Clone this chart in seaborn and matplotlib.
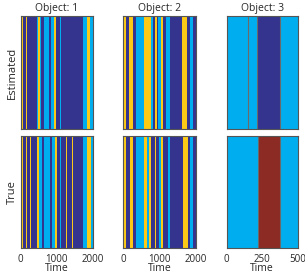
import numpy as np
import matplotlib
matplotlib.use("Agg")
import matplotlib.pyplot as plt
import seaborn as sns
from matplotlib.colors import ListedColormap

# state colours: 0 dark blue, 1 cyan, 2 yellow, 3 dark red
state_colors = ["#34348F", "#00AEEF", "#FCCA16", "#8C2A24"]

# segment boundaries (time) and state of each segment
obj1_est_bounds = [0, 30, 50, 75, 160, 175, 440, 480, 540, 570, 660, 800, 850, 920, 990,
                   1100, 1130, 1280, 1292, 1420, 1432, 1720, 1850, 1930, 2000]
obj1_est_states = [1, 2, 1, 0, 2, 0, 1, 2, 1, 0, 1, 0, 1, 2, 0, 1, 0, 2, 0, 2, 0, 1, 2, 1]

obj1_true_bounds = [0, 30, 55, 160, 172, 270, 282, 463, 518, 583, 648, 815, 861, 954, 1000,
                    1093, 1120, 1270, 1282, 1435, 1447, 1741, 1852, 1944, 2000]
obj1_true_states = [1, 2, 0, 2, 0, 2, 0, 2, 1, 0, 1, 0, 1, 2, 0, 1, 0, 2, 0, 2, 0, 1, 2, 1]

obj2_est_bounds = [0, 25, 74, 166, 277, 350, 580, 765, 830, 876, 922, 968, 1032, 1106,
                   1180, 1290, 1620, 1770, 1840, 1920, 2000]
obj2_est_states = [0, 2, 0, 2, 0, 1, 2, 1, 0, 2, 0, 1, 2, 0, 1, 0, 2, 0, 1, 0]

obj2_true_bounds = [0, 25, 75, 195, 260, 350, 585, 650, 705, 770, 880, 910, 980, 1050,
                    1110, 1230, 1280, 1660, 1780, 1850, 1930, 2000]
obj2_true_states = [0, 2, 0, 2, 0, 1, 2, 1, 2, 0, 2, 0, 1, 2, 0, 1, 0, 2, 0, 1, 0]

obj3_est_bounds = [0, 152, 216, 376, 500]
obj3_est_states = [1, 1, 0, 1]

obj3_true_bounds = [0, 223, 376, 500]
obj3_true_states = [1, 3, 1]

objects = ["Object: 1", "Object: 2", "Object: 3"]
row_names = ["Estimated", "True"]
time_ticks = [[0, 1000, 2000], [0, 1000, 2000], [0, 250, 500]]

panels = [
    [(obj1_est_bounds, obj1_est_states), (obj2_est_bounds, obj2_est_states), (obj3_est_bounds, obj3_est_states)],
    [(obj1_true_bounds, obj1_true_states), (obj2_true_bounds, obj2_true_states), (obj3_true_bounds, obj3_true_states)],
]

sns.set_style("white")
plt.rcParams["font.family"] = ["Open Sans", "DejaVu Sans"]

fig = plt.figure(figsize=(3.05, 2.75), dpi=100)
W, H = 305, 275
col_x = [(20.7, 92.7), (123.3, 195.7), (226.7, 297.7)]
row_y = [(16.3, 129.3), (136.0, 248.3)]

cmap = ListedColormap(state_colors)

for r in range(2):
    for c in range(3):
        x0, x1 = col_x[c]
        y0, y1 = row_y[r]
        ax = fig.add_axes([x0 / W, 1 - y1 / H, (x1 - x0) / W, (y1 - y0) / H])
        bounds, states = panels[r][c]
        # one column per time unit
        seq = np.repeat(states, np.diff(bounds))[None, :]
        sns.heatmap(seq, ax=ax, cmap=cmap, vmin=-0.5, vmax=3.5, cbar=False,
                    xticklabels=False, yticklabels=False, rasterized=True)
        if c == 2:
            ax.vlines(bounds[1:-1], 0, 1, color="#6a6a6a", lw=0.8)
        for s in ax.spines.values():
            s.set_visible(True)
            s.set_color("#555555")
            s.set_linewidth(0.8)
        ax.set_xticks(time_ticks[c])
        ax.tick_params(axis="x", direction="in", length=2, width=0.6, color="#555555",
                       bottom=True, pad=4, labelsize=7)
        ax.set_yticks([])
        if r == 1:
            ax.set_xticklabels([str(t) for t in time_ticks[c]])
            ax.set_xlabel("Time", fontsize=7.5, labelpad=-1)
        else:
            ax.set_xticklabels([])
            ax.set_title(objects[c], fontsize=7.5, pad=4)
        if c == 0:
            ax.set_ylabel(row_names[r], fontsize=8, labelpad=2)

fig.savefig("out.png", dpi=100)
